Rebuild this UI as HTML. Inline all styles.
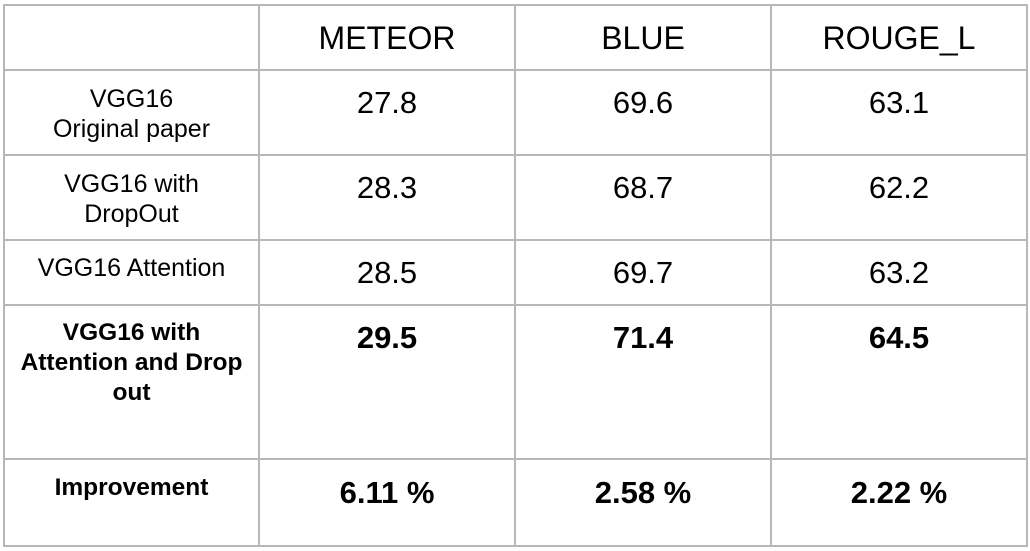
<!DOCTYPE html>
<html><head><meta charset="utf-8"><style>
body{margin:0;width:1030px;height:551px;background:#fff;position:relative;overflow:hidden;font-family:"Liberation Sans",Arial,sans-serif;color:#000}
.h,.v{position:absolute;background:#b7b7b7}
.h{left:3px;width:1025px;height:2px}
.v{top:4px;height:543px;width:2px}
.c{position:absolute;text-align:center}
.lab{font-size:25px;line-height:30px}
.lab.b{font-size:24.5px}
.val{font-size:31px;line-height:36px}
.hd{font-size:32px;line-height:40px}
.b{font-weight:bold}
</style></head><body>
<div class="h" style="top:4px"></div>
<div class="h" style="top:69px"></div>
<div class="h" style="top:154px"></div>
<div class="h" style="top:239px"></div>
<div class="h" style="top:304px"></div>
<div class="h" style="top:458px"></div>
<div class="h" style="top:545px"></div>
<div class="v" style="left:3px"></div>
<div class="v" style="left:258px"></div>
<div class="v" style="left:514px"></div>
<div class="v" style="left:770px"></div>
<div class="v" style="left:1026px"></div>

<div class="c hd" style="left:260px;width:254px;top:18px">METEOR</div>
<div class="c hd" style="left:516px;width:254px;top:18px">BLUE</div>
<div class="c hd" style="left:772px;width:254px;top:18px">ROUGE_L</div>

<div class="c lab" style="left:5px;width:253px;top:84px">VGG16<br>Original paper</div>
<div class="c val" style="left:260px;width:254px;top:85px">27.8</div>
<div class="c val" style="left:516px;width:254px;top:85px">69.6</div>
<div class="c val" style="left:772px;width:254px;top:85px">63.1</div>

<div class="c lab" style="left:5px;width:253px;top:169px">VGG16 with<br>DropOut</div>
<div class="c val" style="left:260px;width:254px;top:170px">28.3</div>
<div class="c val" style="left:516px;width:254px;top:170px">68.7</div>
<div class="c val" style="left:772px;width:254px;top:170px">62.2</div>

<div class="c lab" style="left:5px;width:253px;top:253px">VGG16 Attention</div>
<div class="c val" style="left:260px;width:254px;top:255px">28.5</div>
<div class="c val" style="left:516px;width:254px;top:255px">69.7</div>
<div class="c val" style="left:772px;width:254px;top:255px">63.2</div>

<div class="c lab b" style="left:5px;width:253px;top:318px">VGG16 with<br>Attention and Drop<br>out</div>
<div class="c val b" style="left:260px;width:254px;top:320px">29.5</div>
<div class="c val b" style="left:516px;width:254px;top:320px">71.4</div>
<div class="c val b" style="left:772px;width:254px;top:320px">64.5</div>

<div class="c lab b" style="left:5px;width:253px;top:473px">Improvement</div>
<div class="c val b" style="left:260px;width:254px;top:475px">6.11 %</div>
<div class="c val b" style="left:516px;width:254px;top:475px">2.58 %</div>
<div class="c val b" style="left:772px;width:254px;top:475px">2.22 %</div>
</body></html>
